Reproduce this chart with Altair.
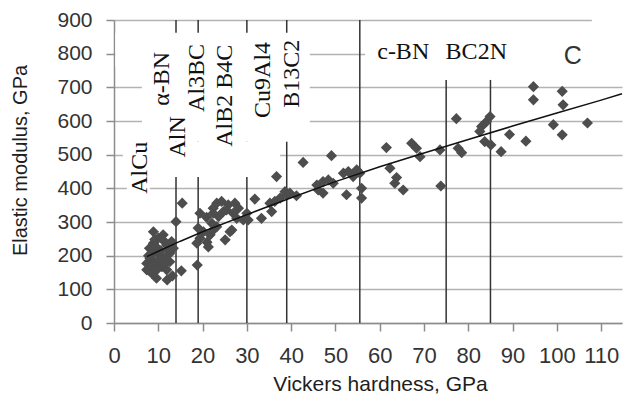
import altair as alt
import pandas as pd

# ---- scatter data (Vickers hardness, GPa  vs  Elastic modulus, GPa) ----
hardness = [
    7.4, 7.4, 8.1, 8.5, 8.5, 8.9, 8.9, 8.9, 9.6, 9.6, 10.0, 10.4, 10.8, 11.1, 11.5, 11.9, 11.9, 12.6,
    12.6, 13.0, 13.4, 12.0, 13.2, 15.2, 14.0, 15.4, 8.0, 9.6, 10.6, 7.8, 9.2, 11.0, 12.2, 10.2, 9.8, 11.4,
    18.8, 19.0, 20.2, 19.4, 18.7, 19.4, 20.9, 21.7, 22.4, 21.0, 21.3, 23.2, 22.4, 22.1, 22.4, 23.6,
    23.2, 24.3, 25.8, 27.3, 28.1, 25.4, 24.7, 26.9, 27.7, 29.2, 26.2, 25.1, 26.6, 30.0, 30.3,
    31.8, 33.3, 35.6, 35.2, 36.3, 37.5, 36.7, 38.6, 39.0, 39.7,
    41.2, 42.7, 45.8, 47.2, 48.4, 49.5, 46.1, 47.2, 49.1,
    51.8, 52.9, 54.0, 54.8, 55.5, 52.5, 55.9, 55.9,
    61.5, 62.3, 63.8, 63.4, 65.3, 67.2, 68.3, 69.1,
    73.6, 73.8, 77.3, 77.7, 78.5,
    84.9, 84.1, 83.0, 82.6, 83.7, 85.1, 87.4,
    89.3, 93.0, 94.7, 94.7, 101.2, 101.4, 99.2, 101.2, 106.9,
]
modulus = [
    177, 158, 192, 172, 148, 207, 237, 271, 182, 133, 252, 202, 167, 262, 192, 232, 158, 207,
    182, 242, 222, 128, 140, 155, 301, 356, 222, 225, 215, 200, 248, 247, 215, 188, 160, 175,
    172, 282, 271, 252, 237, 326, 314, 262, 276, 240, 226, 286, 341, 296, 326, 316,
    356, 361, 351, 356, 341, 336, 331, 326, 311, 306, 271, 247, 276, 326, 306,
    368, 311, 331, 356, 361, 371, 435, 390, 381, 386,
    378, 477, 410, 420, 425, 415, 395, 386, 497,
    445, 450, 435, 455, 445, 381, 400, 371,
    521, 460, 432, 415, 395, 534, 519, 494,
    514, 407, 607, 519, 506,
    613, 598, 584, 569, 539, 529, 509,
    560, 540, 702, 663, 688, 648, 589, 559, 594,
]

# ---- trend curve ----
trend_h = [7.4, 10, 15, 20, 30, 40, 50, 60, 70, 80, 90, 100, 110, 114.7]
trend_e = [197, 213, 243, 271, 322, 372, 420, 464, 505, 545, 585, 624, 662, 681]

# ---- material hardness markers ----
marker_h = [14, 19, 30, 39, 55.5, 75, 85]
marker_top = [900, 900, 900, 900, 900, 722, 722]

# ---- material labels ----
vlabel_text = ["AlCu", "AlN", "α-BN", "Al3BC", "AlB2 B4C", "Cu9Al4", "B13C2"]
vlabel_h = [5.9, 14.45, 10.8, 18.7, 25.1, 33.6, 40.2]
vlabel_e = [461, 553, 725, 728, 675, 722, 740]

hlabel_text = ["c-BN", "BC2N"]
hlabel_h = [65.3, 81.8]
hlabel_e = [806, 806]

c_text = ["C"]
c_h = [103.6]
c_e = [794]

# white label backgrounds (data units)
mask_h1 = [6.3, 0.3, 2.0, 2.9, 56.7, 107.9]
mask_h2 = [44.2, 6.3, 37.5, 8.1, 115.0, 115.0]
mask_e1 = [538, 760, 434, 372, 749, 880]
mask_e2 = [862, 862, 538, 544, 862, 910]

pts = pd.DataFrame({"h": hardness, "e": modulus})
trend = pd.DataFrame({"h": trend_h, "e": trend_e})
markers = pd.DataFrame({"h": marker_h, "e": [0] * len(marker_h), "e2": marker_top})
vlab = pd.DataFrame({"h": vlabel_h, "e": vlabel_e, "t": vlabel_text})
hlab = pd.DataFrame({"h": hlabel_h, "e": hlabel_e, "t": hlabel_text})
clab = pd.DataFrame({"h": c_h, "e": c_e, "t": c_text})
masks = pd.DataFrame({"h": mask_h1, "h2": mask_h2, "e": mask_e1, "e2": mask_e2})

xscale = alt.Scale(domain=[0, 114.7], nice=False, zero=False)
yscale = alt.Scale(domain=[0, 900], nice=False, zero=False)

x_axis = alt.Axis(
    values=list(range(0, 111, 10)), grid=False,
    domainColor="#8c8c8c", domainWidth=1.5, tickColor="#8c8c8c", tickWidth=1.5, tickSize=8,
    labelFont="Liberation Sans", labelFontSize=22, labelColor="#333333", labelPadding=14,
    labelFlush=False, labelOverlap=False,
    title="Vickers hardness, GPa", titleFont="Liberation Sans", titleFontSize=21,
    titleFontWeight="normal", titleColor="#1e1e1e", titleX=266, titleY=67,
    titleAlign="center", titleBaseline="alphabetic",
)
y_axis = alt.Axis(
    values=list(range(0, 901, 100)), grid=True, gridColor="#b3b3b3", gridWidth=1.5,
    domainColor="#8c8c8c", domainWidth=1.5, tickColor="#8c8c8c", tickWidth=1.5, tickSize=8,
    labelFont="Liberation Sans", labelFontSize=21, labelColor="#333333", labelPadding=14,
    labelFlush=False, labelOverlap=False,
    title="Elastic modulus, GPa", titleFont="Liberation Sans", titleFontSize=20,
    titleFontWeight="normal", titleColor="#1e1e1e", titleX=-94, titleY=140,
    titleAngle=-90, titleAlign="center", titleBaseline="middle",
)

X = alt.X("h:Q", scale=xscale, axis=x_axis)
Y = alt.Y("e:Q", scale=yscale, axis=y_axis)

rules = alt.Chart(markers).mark_rule(color="#333333", strokeWidth=1.5).encode(
    x=X, y=Y, y2=alt.Y2("e2:Q")
)
mask_layer = alt.Chart(masks).mark_rect(color="white").encode(
    x=X, x2=alt.X2("h2:Q"), y=Y, y2=alt.Y2("e2:Q")
)
vtext = alt.Chart(vlab).mark_text(
    angle=270, font="Liberation Serif", fontSize=24, align="center", baseline="middle",
    color="#111111"
).encode(x=X, y=Y, text="t:N")
htext = alt.Chart(hlab).mark_text(
    font="Liberation Serif", fontSize=24, align="center", baseline="middle", color="#111111"
).encode(x=X, y=Y, text="t:N")
ctext = alt.Chart(clab).mark_text(
    font="Liberation Sans", fontSize=25, align="center", baseline="middle", color="#333333"
).encode(x=X, y=Y, text="t:N")
points = alt.Chart(pts).mark_point(
    shape="diamond", filled=True, size=125, color="#4d4d4d", opacity=1
).encode(x=X, y=Y)
trend_line = alt.Chart(trend).mark_line(color="#111111", strokeWidth=1.5).encode(x=X, y=Y)

chart = alt.layer(rules, mask_layer, vtext, htext, ctext, points, trend_line).properties(
    width=508, height=303,
    autosize=alt.AutoSizeParams(type="none"),
    padding={"left": 114, "top": 20, "right": 3, "bottom": 81},
    background="white",
).configure_view(stroke=None)

chart.save("out.html", embed_options={"renderer": "svg", "actions": False})
